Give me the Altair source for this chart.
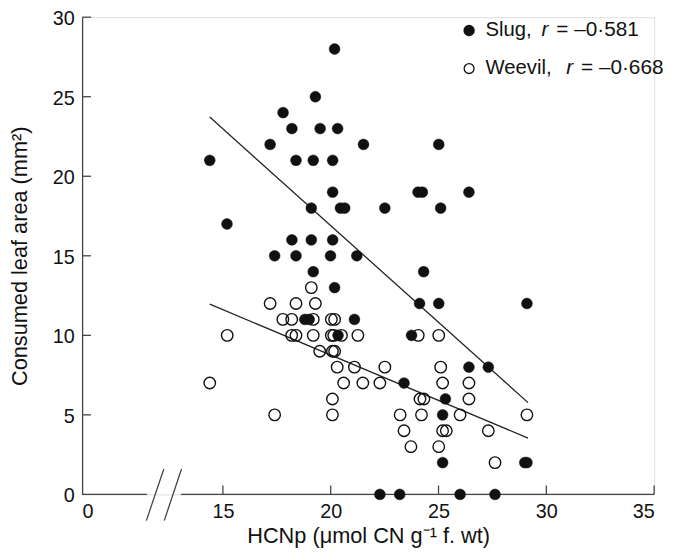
import altair as alt
import pandas as pd

# ---- data ----
slug_x = [20.18, 19.29, 17.79, 18.2, 19.51, 20.32, 17.19, 21.52, 25.01, 14.39,
          18.39, 19.19, 20.09, 20.09, 24.05, 24.25, 26.41, 19.1, 20.45, 20.65,
          22.51, 25.1, 15.19, 18.2, 19.1, 20.09, 17.4, 18.39, 19.99, 21.21,
          19.19, 24.31, 20.18, 24.12, 25.01, 29.1, 18.8, 19.0, 21.1, 20.34,
          23.75, 26.41, 27.31, 23.4, 25.32, 25.19, 25.19, 29.0, 29.1, 22.28,
          23.2, 26.0, 27.62]
slug_y = [28, 25, 24, 23, 23, 23, 22, 22, 22, 21,
          21, 21, 21, 19, 19, 19, 19, 18, 18, 18,
          18, 18, 17, 16, 16, 16, 15, 15, 15, 15,
          14, 14, 13, 12, 12, 12, 11, 11, 11, 10,
          10, 8, 8, 7, 6, 5, 2, 2, 2, 0,
          0, 0, 0]

weevil_x = [17.19, 18.39, 19.29, 19.1, 17.78, 18.19, 19.19, 20.03, 20.18, 15.2,
            18.19, 18.39, 19.19, 20.03, 20.14, 20.5, 21.26, 24.06, 25.01, 19.49,
            20.08, 20.18, 20.3, 21.1, 22.51, 25.1, 14.39, 17.4, 20.6, 21.49,
            22.28, 25.19, 26.41, 20.08, 24.14, 24.32, 26.41, 20.08, 23.22, 24.21,
            26.0, 29.1, 23.4, 25.19, 25.36, 27.31, 23.72, 25.01, 27.62]
weevil_y = [12, 12, 12, 13, 11, 11, 11, 11, 11, 10,
            10, 10, 10, 10, 10, 10, 10, 10, 10, 9,
            9, 9, 8, 8, 8, 8, 7, 5, 7, 7,
            7, 7, 7, 6, 6, 6, 6, 5, 5, 5,
            5, 5, 4, 4, 4, 4, 3, 3, 2]

line_x = [14.39, 29.15]
slug_line_y = [23.72, 5.77]
weevil_line_y = [11.96, 3.54]

x_ticks = [15, 20, 25, 30, 35]
y_ticks = [0, 5, 10, 15, 20, 25, 30]
y_tick_marks = [5, 10, 15, 20, 25, 30]
X_ZERO = 8.47          # where "0" sits on the broken x axis
x_label_values = [X_ZERO] + x_ticks
axis_segments_x = [X_ZERO, 13.05]
axis_segments_x2 = [11.48, 35]
break_x = [11.45, 12.28]
break_x2 = [12.26, 13.08]
break_y = [-1.65, -1.65]
break_y2 = [1.6, 1.6]

legend_names = ["Slug,", "Weevil,"]
legend_r = ["r", "r"]
legend_vals = ["= \u20130\u00b7581", "= \u20130\u00b7668"]

FONT = "Liberation Sans"
INK = "#111111"
AXC = "#444444"
W, H = 579, 483

xs = alt.Scale(domain=[X_ZERO, 35], nice=False, zero=False)
ys = alt.Scale(domain=[0, 30], nice=False, zero=False)

slug_df = pd.DataFrame({"x": slug_x, "y": slug_y})
weevil_df = pd.DataFrame({"x": weevil_x, "y": weevil_y})
lines_df = pd.DataFrame({
    "x": line_x + line_x,
    "y": slug_line_y + weevil_line_y,
    "g": ["Slug"] * 2 + ["Weevil"] * 2,
})

x_axis = alt.Axis(
    title="HCNp (\u03bcmol CN g\u207b\u00b9 f. wt)",
    values=x_label_values,
    labelExpr="datum.value < 10 ? '0' : datum.label",
    domain=False, ticks=False, tickSize=0, grid=False,
    labelFontSize=20, titleFontSize=22, labelPadding=7, titlePadding=5,
    labelFont=FONT, titleFont=FONT, titleFontWeight="normal",
    labelColor=INK, titleColor=INK,
)
y_axis = alt.Axis(
    title="Consumed leaf area (mm\u00b2)",
    values=y_ticks,
    domain=True, domainColor=AXC, domainWidth=1.3,
    ticks=False, tickSize=0, grid=False,
    labelFontSize=20, titleFontSize=22, labelPadding=8, titlePadding=21,
    labelOffset=1.5,
    labelFont=FONT, titleFont=FONT, titleFontWeight="normal",
    labelColor=INK, titleColor=INK,
)

axes = alt.Chart(weevil_df).mark_point(opacity=0).encode(
    x=alt.X("x:Q", scale=xs, axis=x_axis),
    y=alt.Y("y:Q", scale=ys, axis=y_axis),
)

# broken x-axis line
axis_line = alt.Chart(pd.DataFrame({"x": axis_segments_x, "x2": axis_segments_x2})).mark_rule(
    color=AXC, strokeWidth=1.3
).encode(x=alt.X("x:Q", scale=xs), x2="x2:Q", y=alt.datum(0, scale=ys))

break_marks = alt.Chart(pd.DataFrame({"x": break_x, "x2": break_x2, "y": break_y, "y2": break_y2})).mark_rule(
    color=AXC, strokeWidth=1.3
).encode(x=alt.X("x:Q", scale=xs), x2="x2:Q", y=alt.Y("y:Q", scale=ys), y2="y2:Q")

# inward ticks
xticks = alt.Chart(pd.DataFrame({"x": x_ticks})).mark_rule(color=AXC, strokeWidth=1.3).encode(
    x=alt.X("x:Q", scale=xs), y=alt.value(H), y2=alt.value(H - 9)
)
yticks = alt.Chart(pd.DataFrame({"y": y_tick_marks})).mark_rule(color=AXC, strokeWidth=1.3).encode(
    y=alt.Y("y:Q", scale=ys), x=alt.value(0), x2=alt.value(9)
)

fit_lines = alt.Chart(lines_df).mark_line(color="#222222", strokeWidth=1.3).encode(
    x=alt.X("x:Q", scale=xs), y=alt.Y("y:Q", scale=ys), detail="g:N"
)

weevil_pts = alt.Chart(weevil_df).mark_point(
    shape="circle", filled=False, stroke=INK, strokeWidth=1.4, size=135, opacity=1
).encode(x=alt.X("x:Q", scale=xs), y=alt.Y("y:Q", scale=ys))

slug_pts = alt.Chart(slug_df).mark_point(
    shape="circle", filled=True, fill=INK, stroke=INK, strokeWidth=0.5, size=120, opacity=1
).encode(x=alt.X("x:Q", scale=xs), y=alt.Y("y:Q", scale=ys))

# legend (annotation)
leg = pd.DataFrame({
    "name": legend_names, "r": legend_r, "val": legend_vals,
    "py": [13.5, 52.0],
    "rx": [465.0, 490.0], "vx": [480.0, 505.0],
    "filled": [True, False],
})
leg_sym_f = alt.Chart(leg[leg["filled"]]).mark_point(
    shape="circle", filled=True, fill=INK, stroke=INK, size=90, opacity=1
).encode(x=alt.value(391.7), y=alt.Y("py:Q", scale=None))
leg_sym_o = alt.Chart(leg[~leg["filled"]]).mark_point(
    shape="circle", filled=False, stroke=INK, strokeWidth=1.3, size=100, opacity=1
).encode(x=alt.value(391.7), y=alt.Y("py:Q", scale=None))
leg_name = alt.Chart(leg).mark_text(
    align="left", baseline="middle", font=FONT, fontSize=20.5, color=INK
).encode(x=alt.value(408.4), y=alt.Y("py:Q", scale=None), text="name:N")
leg_r = alt.Chart(leg).mark_text(
    align="left", baseline="middle", font=FONT, fontSize=21, fontStyle="italic", color=INK
).encode(x=alt.X("rx:Q", scale=None), y=alt.Y("py:Q", scale=None), text="r:N")
leg_val = alt.Chart(leg).mark_text(
    align="left", baseline="middle", font=FONT, fontSize=21, color=INK
).encode(x=alt.X("vx:Q", scale=None), y=alt.Y("py:Q", scale=None), text="val:N")

chart = alt.layer(
    axes, axis_line, break_marks, xticks, yticks, fit_lines, weevil_pts, slug_pts,
    leg_sym_f, leg_sym_o, leg_name, leg_r, leg_val,
).resolve_scale(x="shared", y="shared").properties(
    width=W, height=H,
    autosize=alt.AutoSizeParams(type="none"),
    padding={"left": 75, "top": 6, "right": 12, "bottom": 55},
).configure_view(stroke=None).configure(background="white")

chart.save("out.html", embed_options={"renderer": "svg", "actions": False})
